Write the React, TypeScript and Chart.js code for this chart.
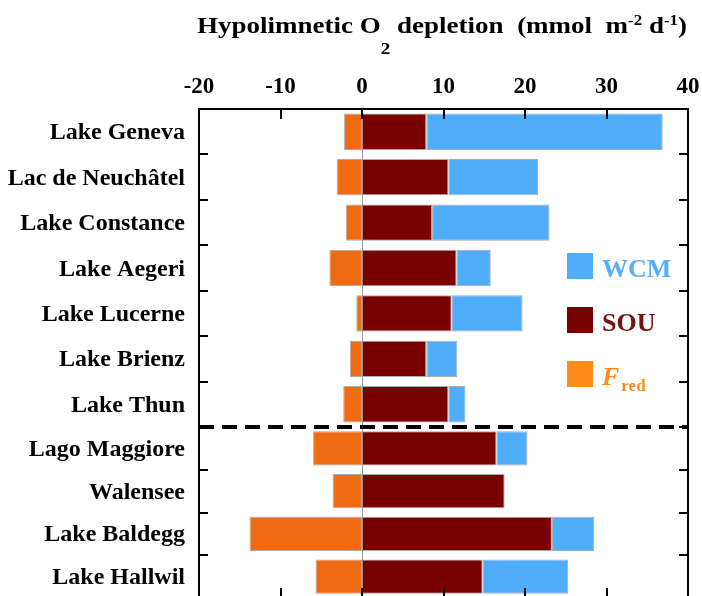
import React, { useEffect, useRef } from 'react';
import { Chart, registerables } from 'chart.js';

Chart.register(...registerables);

// ---------- data ----------
const upperLakes = ['Lake Geneva', 'Lac de Neuchâtel', 'Lake Constance', 'Lake Aegeri', 'Lake Lucerne', 'Lake Brienz', 'Lake Thun'];
const upperFred = [-2.2, -3.1, -2.0, -4.0, -0.7, -1.5, -2.3];
const upperSOU = [7.9, 10.6, 8.6, 11.6, 11.0, 7.9, 10.6];
const upperWCM = [29.0, 11.0, 14.4, 4.2, 8.7, 3.8, 2.1];

const lowerLakes = ['Lago Maggiore', 'Walensee', 'Lake Baldegg', 'Lake Hallwil'];
const lowerFred = [-6.0, -3.6, -13.8, -5.7];
const lowerSOU = [16.5, 17.5, 23.3, 14.8];
const lowerWCM = [3.8, null, 5.2, 10.5];

const xTicks = [-20, -10, 0, 10, 20, 30, 40];

// ---------- styles ----------
const SERIF = '"Liberation Serif", "Times New Roman", serif';
const C_WCM = '#50adfc';
const C_SOU = '#7a0000';
const C_FRED = '#f06a12';
const C_FRED_LEG = '#ff8c1c';
const BAR_BORDER = 'rgba(140,140,150,0.75)';

const W = 702;
const H = 605;

function mkDs(label: string, data: (number | null)[], axis: string, color: string) {
  return {
    label,
    data,
    yAxisID: axis,
    backgroundColor: color,
    borderColor: BAR_BORDER,
    borderWidth: 1,
    borderSkipped: false,
    grouped: false,
    categoryPercentage: 0.8,
    barPercentage: 1.0,
  };
}

const decor = {
  id: 'decor',
  beforeDatasetsDraw(chart: any) {
    const { ctx, chartArea: a, scales } = chart;
    const x0 = scales.x.getPixelForValue(0);
    ctx.save();
    ctx.strokeStyle = '#9a9a9a';
    ctx.lineWidth = 1;
    ctx.beginPath();
    ctx.moveTo(Math.round(x0) + 0.5, a.top);
    ctx.lineTo(Math.round(x0) + 0.5, a.bottom);
    ctx.stroke();
    ctx.restore();
  },
  afterDraw(chart: any) {
    const { ctx, chartArea: a, scales } = chart;
    const yU = scales.yU;
    const yL = scales.yL;
    const x = scales.x;
    ctx.save();

    // frame
    ctx.strokeStyle = '#000';
    ctx.lineWidth = 2;
    ctx.beginPath();
    ctx.moveTo(a.left, a.bottom);
    ctx.lineTo(a.left, a.top);
    ctx.lineTo(a.right, a.top);
    ctx.lineTo(a.right, a.bottom);
    ctx.lineTo(a.left, a.bottom);
    ctx.stroke();

    // ticks top/bottom
    ctx.lineWidth = 2;
    xTicks.forEach((v) => {
      const px = Math.round(x.getPixelForValue(v));
      if (v === xTicks[0] || v === xTicks[xTicks.length - 1]) return;
      ctx.beginPath();
      ctx.moveTo(px, a.top);
      ctx.lineTo(px, a.top + 10);
      ctx.moveTo(px, a.bottom);
      ctx.lineTo(px, a.bottom - 10);
      ctx.stroke();
    });

    // left/right ticks at category boundaries
    const boundaries: number[] = [];
    [yU, yL].forEach((s: any) => {
      const n = s.getLabels().length;
      for (let i = 1; i < n; i++) {
        boundaries.push((s.getPixelForTick(i - 1) + s.getPixelForTick(i)) / 2);
      }
    });
    boundaries.push(yU.bottom);
    boundaries.forEach((py) => {
      const y = Math.round(py);
      ctx.beginPath();
      ctx.moveTo(a.left, y);
      ctx.lineTo(a.left + 9, y);
      ctx.moveTo(a.right, y);
      ctx.lineTo(a.right - 9, y);
      ctx.stroke();
    });

    // dashed separator
    ctx.lineWidth = 4;
    ctx.setLineDash([15, 8]);
    ctx.beginPath();
    ctx.moveTo(a.left, Math.round(yU.bottom));
    ctx.lineTo(a.right, Math.round(yU.bottom));
    ctx.stroke();
    ctx.setLineDash([]);

    // x tick labels
    ctx.fillStyle = '#000';
    ctx.font = `bold 23px ${SERIF}`;
    ctx.textAlign = 'center';
    ctx.textBaseline = 'alphabetic';
    xTicks.forEach((v) => {
      ctx.fillText(String(v), x.getPixelForValue(v), 93);
    });

    // y labels
    ctx.font = `bold 24px ${SERIF}`;
    ctx.textAlign = 'right';
    [yU, yL].forEach((s: any) => {
      s.getLabels().forEach((lab: string, i: number) => {
        ctx.fillText(lab, a.left - 14, s.getPixelForTick(i) + 7.5);
      });
    });

    // title
    const parts: [string, number, number][] = [
      ['Hypolimnetic O', 24, 0],
      ['2', 17, 21],
      [' depletion  (mmol  m', 24, 0],
      ['-2', 15, -8],
      [' d', 24, 0],
      ['-1', 15, -8],
      [')', 24, 0],
    ];
    let total = 0;
    parts.forEach(([t, fs]) => {
      ctx.font = `bold ${fs}px ${SERIF}`;
      total += ctx.measureText(t).width;
    });
    const sx = 490 / total;
    ctx.save();
    ctx.translate(197, 33);
    ctx.scale(sx, 1);
    ctx.textAlign = 'left';
    let cx = 0;
    parts.forEach(([t, fs, dy]) => {
      ctx.font = `bold ${fs}px ${SERIF}`;
      ctx.fillText(t, cx, dy);
      cx += ctx.measureText(t).width;
    });
    ctx.restore();

    // legend
    const legend: [string, string, string, number][] = [
      ['WCM', C_WCM, '#55aff8', 253],
      ['SOU', C_SOU, '#7b1010', 307],
      ['F', C_FRED_LEG, C_FRED_LEG, 361],
    ];
    legend.forEach(([t, sq, tc, y]) => {
      ctx.fillStyle = sq;
      ctx.fillRect(567, y, 26, 26);
      ctx.fillStyle = tc;
      ctx.textAlign = 'left';
      if (t === 'F') {
        ctx.font = `italic bold 26px ${SERIF}`;
        ctx.fillText('F', 602, y + 24);
        const fw = ctx.measureText('F').width;
        ctx.font = `bold 17px ${SERIF}`;
        ctx.fillText('red', 602 + fw + 2, y + 30);
      } else {
        ctx.font = `bold 26px ${SERIF}`;
        ctx.fillText(t, 602, y + 24);
      }
    });

    ctx.restore();
  },
};

const axisCommon = {
  type: 'category',
  axis: 'y',
  position: 'left',
  stack: 'lakes',
  stacked: true,
  offset: true,
  ticks: { display: false },
  grid: { display: false },
  border: { display: false },
  afterFit: (s: any) => { s.width = 199; },
};

export default function App() {
  const ref = useRef<HTMLCanvasElement | null>(null);

  useEffect(() => {
    if (!ref.current) return;
    const chart = new Chart(ref.current, {
      type: 'bar',
      data: {
        datasets: [
          mkDs('SOU', upperSOU, 'yU', C_SOU),
          mkDs('WCM', upperWCM, 'yU', C_WCM),
          mkDs('Fred', upperFred, 'yU', C_FRED),
          mkDs('SOU', lowerSOU, 'yL', C_SOU),
          mkDs('WCM', lowerWCM, 'yL', C_WCM),
          mkDs('Fred', lowerFred, 'yL', C_FRED),
        ] as any,
      },
      options: {
        indexAxis: 'y',
        responsive: false,
        animation: false,
        layout: { padding: { top: 109, right: 14, bottom: H - 598, left: 0 } },
        plugins: { legend: { display: false }, tooltip: { enabled: false }, title: { display: false } },
        scales: {
          x: { type: 'linear', min: -20, max: 40, stacked: true, display: false },
          yL: { ...axisCommon, labels: lowerLakes, stackWeight: 171 },
          yU: { ...axisCommon, labels: upperLakes, stackWeight: 318 },
        } as any,
      },
      plugins: [decor],
    });
    return () => chart.destroy();
  }, []);

  return (
    <div style={{ position: 'absolute', left: 0, top: 0, width: W, height: 596, overflow: 'hidden', background: '#fff' }}>
      <canvas ref={ref} width={W} height={H} style={{ display: 'block', width: W, height: H }} />
    </div>
  );
}
